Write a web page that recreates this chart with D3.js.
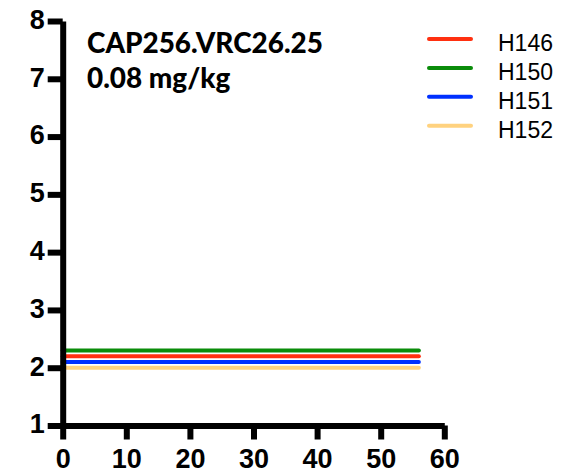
<!DOCTYPE html>
<html>
<head>
<meta charset="utf-8">
<script src="https://cdn.jsdelivr.net/npm/d3@7"></script>
<style>
  body { margin: 0; background: #fff; }
  .axis text { font-family: "Liberation Sans", Arial, sans-serif; font-weight: bold; font-size: 27px; fill: #000; }
  .title { font-family: Lato, "Open Sans", sans-serif; font-weight: 900; font-size: 28px; fill: #000; }
  .legend text { font-family: "Liberation Sans", Arial, sans-serif; font-size: 23px; fill: #000; }
</style>
</head>
<body>
<div id="chart"></div>
<script>
// Data
var animals = ["H146", "H150", "H151", "H152"];
var colors = ["#ff3010", "#0a8c0a", "#0030ff", "#ffd27f"];
var days = [0, 56];
var titers = {
  H146: [2.2, 2.2],
  H150: [2.3, 2.3],
  H151: [2.1, 2.1],
  H152: [2.0, 2.0]
};
var xTicks = [0, 10, 20, 30, 40, 50, 60];
var yTicks = [1, 2, 3, 4, 5, 6, 7, 8];
var titleLines = ["CAP256.VRC26.25", "0.08 mg/kg"];

var width = 580, height = 475;
var margin = { top: 21, right: 135.7, bottom: 49.5, left: 62.7 };
var innerW = width - margin.left - margin.right;
var innerH = height - margin.top - margin.bottom;

var svg = d3.select("#chart")
  .append("svg")
  .attr("width", width)
  .attr("height", height);

var g = svg.append("g")
  .attr("transform", "translate(" + margin.left + "," + margin.top + ")");

// Scales
var x = d3.scaleLinear().domain([0, 60]).range([0, innerW]);
var y = d3.scaleLinear().domain([1, 8]).range([innerH, 0]);

// Lines first so axis sits on top
var line = d3.line()
  .x(function (d) { return x(d[0]); })
  .y(function (d) { return y(d[1]); });

animals.forEach(function (name, i) {
  var pts = days.map(function (d, j) { return [d, titers[name][j]]; });
  g.append("path")
    .attr("d", line(pts))
    .attr("fill", "none")
    .attr("stroke", colors[i])
    .attr("stroke-width", 4)
    .attr("stroke-linecap", "round");
});

// Axes
var xAxis = d3.axisBottom(x)
  .tickValues(xTicks)
  .tickFormat(d3.format("d"))
  .tickSize(14)
  .tickSizeOuter(0)
  .tickPadding(3);

var yAxis = d3.axisLeft(y)
  .tickValues(yTicks)
  .tickFormat(d3.format("d"))
  .tickSize(15)
  .tickSizeOuter(0)
  .tickPadding(3);

// thick black axis strokes
function styleAxis(sel) {
  sel.selectAll("path, line")
    .attr("stroke", "#000")
    .attr("stroke-width", 6);
}

g.append("g")
  .attr("class", "x axis")
  .attr("transform", "translate(0," + innerH + ")")
  .call(xAxis)
  .call(styleAxis)
  .selectAll("text")
  .attr("dy", "0.95em");

g.append("g")
  .attr("class", "y axis")
  .call(yAxis)
  .call(styleAxis)
  .selectAll("text")
  .attr("dy", "0.27em");

// Title text
var titles = svg.selectAll(".title")
  .data(titleLines)
  .enter()
  .append("text")
  .attr("class", "title")
  .attr("x", 87)
  .attr("y", function (d, i) { return 53 + i * 35; })
  .text(function (d) { return d; });

// fit first line to the width seen in the picture (~236px)
var w0 = titles.node().getComputedTextLength();
if (w0 > 0) titles.style("font-size", (28 * 236 / w0) + "px");

// Legend
var legend = svg.append("g").attr("class", "legend");
animals.forEach(function (name, i) {
  var ly = 39 + i * 28.9;
  legend.append("line")
    .attr("x1", 429).attr("x2", 471)
    .attr("y1", ly).attr("y2", ly)
    .attr("stroke", colors[i])
    .attr("stroke-width", 4)
    .attr("stroke-linecap", "round");
  legend.append("text")
    .attr("x", 498)
    .attr("y", ly + 12)
    .text(name);
});
</script>
</body>
</html>
